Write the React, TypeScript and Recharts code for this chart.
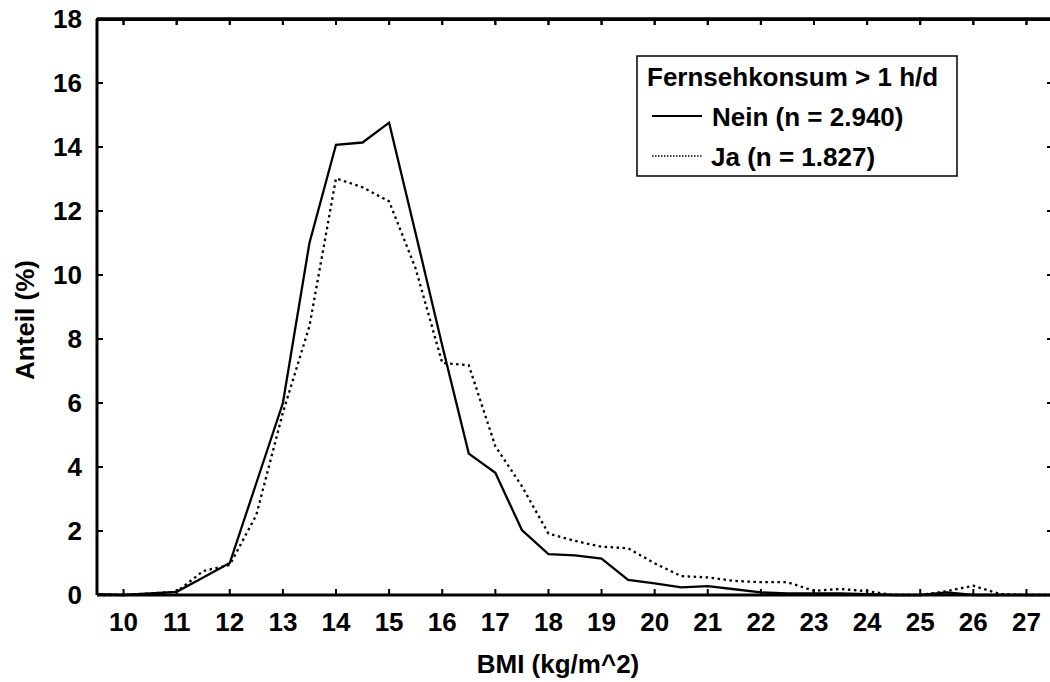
import { LineChart, Line, XAxis, YAxis, Legend, ReferenceLine } from 'recharts'

const bmi = [
  9.5, 10, 10.5, 11, 11.5, 12, 12.5, 13, 13.5, 14, 14.5, 15, 15.5, 16, 16.5, 17, 17.5, 18, 18.5,
  19, 19.5, 20, 20.5, 21, 21.5, 22, 22.5, 23, 23.5, 24, 24.5, 25, 25.5, 26, 26.5, 27, 27.5,
]

// Fernsehkonsum > 1 h/d: Nein
const nein = [
  0.03, 0.0, 0.05, 0.1, 0.55, 1.0, 3.5, 6.0, 11.0, 14.07, 14.14, 14.76, 11.3, 7.8, 4.42, 3.82, 2.03,
  1.28, 1.24, 1.14, 0.47, 0.36, 0.24, 0.28, 0.18, 0.08, 0.05, 0.05, 0.05, 0.03, 0.0, 0.0, 0.08, 0.0,
  0.0, 0.0, 0.0,
]

// Fernsehkonsum > 1 h/d: Ja
const ja = [
  0.0, 0.0, 0.05, 0.1, 0.75, 0.94, 2.5, 5.7, 8.4, 13.02, 12.74, 12.3, 10.2, 7.25, 7.18, 4.65, 3.4,
  1.92, 1.69, 1.51, 1.46, 0.99, 0.59, 0.55, 0.44, 0.4, 0.4, 0.13, 0.19, 0.12, 0.0, 0.0, 0.12, 0.29,
  0.03, 0.0, 0.0,
]

const xTicks = [10, 11, 12, 13, 14, 15, 16, 17, 18, 19, 20, 21, 22, 23, 24, 25, 26, 27]
const yTicks = [0, 2, 4, 6, 8, 10, 12, 14, 16, 18]
const xDomain = [9.5, 27.5]
const yDomain = [0, 18]

const legendTitle = 'Fernsehkonsum > 1 h/d'
const neinLabel = 'Nein (n = 2.940)'
const jaLabel = 'Ja (n = 1.827)'

const data = bmi.map((b, i) => ({ bmi: b, nein: nein[i], ja: ja[i] }))

const font = "'Liberation Sans', Arial, sans-serif"
const axisLine = { stroke: '#000', strokeWidth: 3 }
const TICK = 6

// inward tick mark + optional label, placed at the axis position recharts hands in
function makeTick(side: 'bottom' | 'top' | 'left' | 'right') {
  return (props: any) => {
    const { x, y, payload } = props
    const textProps = { fontFamily: font, fontSize: 26, fontWeight: 'bold', fill: '#000' }
    if (side === 'bottom') {
      return (
        <g>
          <line x1={x} x2={x} y1={y} y2={y - TICK} stroke="#000" strokeWidth={2} />
          <text x={x} y={y + 18} dy="0.71em" textAnchor="middle" {...textProps}>
            {payload.value}
          </text>
        </g>
      )
    }
    if (side === 'left') {
      return (
        <g>
          <line x1={x} x2={x + TICK} y1={y} y2={y} stroke="#000" strokeWidth={2} />
          <text x={x - 15} y={y} dy="0.355em" textAnchor="end" {...textProps}>
            {payload.value}
          </text>
        </g>
      )
    }
    if (side === 'top') {
      return <line x1={x} x2={x} y1={y} y2={y + TICK} stroke="#000" strokeWidth={2} />
    }
    return <line x1={x} x2={x - TICK} y1={y} y2={y} stroke="#000" strokeWidth={2} />
  }
}

function LegendBox() {
  return (
    <svg width={324} height={124} style={{ display: 'block' }}>
      <rect x={1} y={1} width={320} height={120} fill="#fff" stroke="#000" strokeWidth={1.5} />
      <g fontFamily={font} fontSize={26} fontWeight="bold" fill="#000">
        <text x={11} y={31}>{legendTitle}</text>
        <line x1={16} x2={66} y1={61} y2={61} stroke="#000" strokeWidth={2} />
        <text x={76} y={71}>{neinLabel}</text>
        <line x1={16} x2={66} y1={101} y2={101} stroke="#000" strokeWidth={1.5} strokeDasharray="1.5 1.5" />
        <text x={75} y={111}>{jaLabel}</text>
      </g>
    </svg>
  )
}

export default function App() {
  return (
    <div
      style={{
        position: 'fixed',
        left: 0,
        top: 0,
        width: 1050,
        height: 682,
        overflow: 'hidden',
        background: '#fff',
      }}
    >
      <LineChart width={1054} height={682} data={data} margin={{ top: 18, right: 0, bottom: 0, left: 0 }}>
        <XAxis
          xAxisId="b"
          dataKey="bmi"
          type="number"
          domain={xDomain}
          ticks={xTicks}
          interval={0}
          height={87}
          tickSize={0}
          tickMargin={0}
          axisLine={axisLine}
          tickLine={false}
          tick={makeTick('bottom')}
          label={{
            content: ({ viewBox }: any) => (
              <text
                x={viewBox.x + viewBox.width / 2 - 17}
                y={673}
                textAnchor="middle"
                fontFamily={font}
                fontSize={26}
                fontWeight="bold"
                fill="#000"
              >
                BMI (kg/m^2)
              </text>
            ),
          }}
        />
        {/* frame: top and right axes share the same domains */}
        <XAxis
          xAxisId="t"
          orientation="top"
          dataKey="bmi"
          type="number"
          domain={xDomain}
          ticks={xTicks}
          interval={0}
          height={1}
          tickSize={0}
          tickMargin={0}
          axisLine={axisLine}
          tickLine={false}
          tick={makeTick('top')}
        />
        <YAxis
          yAxisId="l"
          domain={yDomain}
          ticks={yTicks}
          interval={0}
          width={97}
          tickSize={0}
          tickMargin={0}
          axisLine={axisLine}
          tickLine={false}
          tick={makeTick('left')}
          label={{
            content: ({ viewBox }: any) => {
              const cy = viewBox.y + viewBox.height / 2 + 13
              return (
                <text
                  x={34}
                  y={cy}
                  transform={`rotate(-90, 34, ${cy})`}
                  textAnchor="middle"
                  fontFamily={font}
                  fontSize={26}
                  fontWeight="bold"
                  fill="#000"
                >
                  Anteil (%)
                </text>
              )
            },
          }}
        />
        <YAxis
          yAxisId="r"
          orientation="right"
          domain={yDomain}
          ticks={yTicks}
          interval={0}
          width={1}
          tickSize={0}
          tickMargin={0}
          axisLine={axisLine}
          tickLine={false}
          tick={makeTick('right')}
        />
        {/* top border of the frame, plus its inward ticks */}
        <ReferenceLine xAxisId="b" yAxisId="l" y={yDomain[1]} ifOverflow="visible" stroke="#000" strokeWidth={3} />
        {xTicks.map((t) => (
          <ReferenceLine
            key={t}
            xAxisId="b"
            yAxisId="l"
            ifOverflow="visible"
            segment={[
              { x: t, y: yDomain[1] },
              { x: t, y: yDomain[1] - 0.19 },
            ]}
            stroke="#000"
            strokeWidth={2}
          />
        ))}
        <Legend
          layout="vertical"
          align="center"
          verticalAlign="middle"
          content={() => <LegendBox />}
          wrapperStyle={{ left: 636, top: 55, width: 324, height: 124 }}
        />
        <Line
          xAxisId="b"
          yAxisId="l"
          type="linear"
          dataKey="nein"
          stroke="#000"
          strokeWidth={2.3}
          dot={false}
          activeDot={false}
          isAnimationActive={false}
        />
        <Line
          xAxisId="t"
          yAxisId="r"
          type="linear"
          dataKey="ja"
          stroke="#000"
          strokeWidth={2.3}
          strokeDasharray="2.5 3.5"
          dot={false}
          activeDot={false}
          isAnimationActive={false}
        />
      </LineChart>
      {/* fallback for the top frame edge */}
      <div
        style={{
          position: 'absolute',
          left: 95.5,
          top: 17.5,
          width: 958,
          height: 3,
          background: '#000',
          pointerEvents: 'none',
        }}
      />
    </div>
  )
}
